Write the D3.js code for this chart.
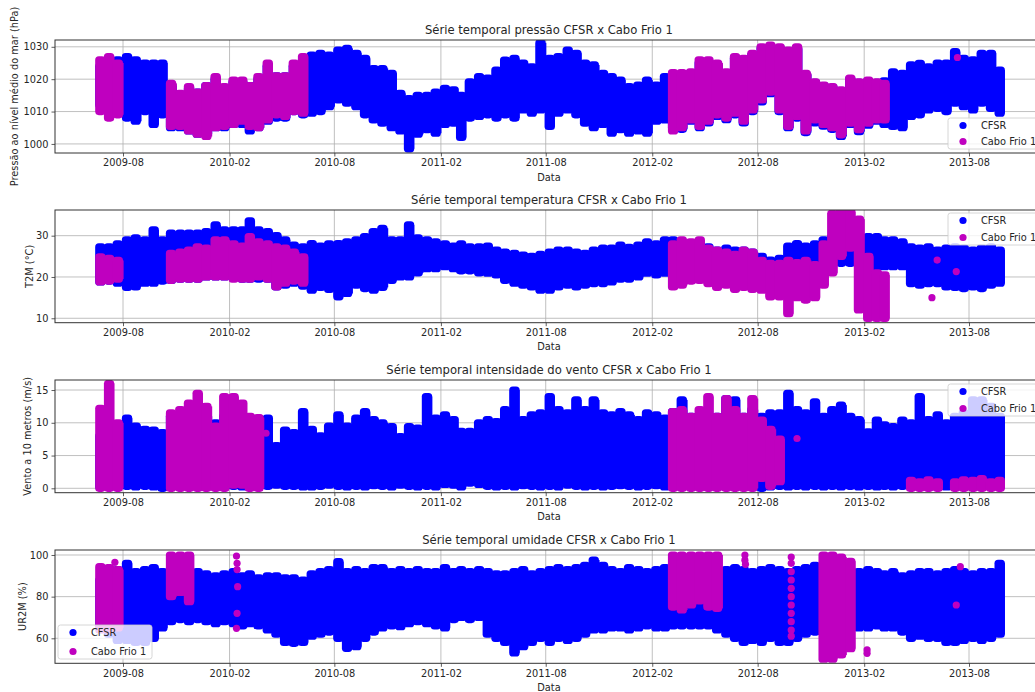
<!DOCTYPE html>
<html><head><meta charset="utf-8">
<script src="https://cdnjs.cloudflare.com/ajax/libs/d3/7.8.5/d3.min.js"></script>
<style>
body{margin:0;background:#fff}
text{font-family:"DejaVu Sans",sans-serif;fill:#262626}
</style>
</head><body>
<script>
// ---------- categories (half-month bins) ----------
const binStarts = [
"2009-06-16","2009-07-01","2009-07-16","2009-08-01","2009-08-16","2009-09-01","2009-09-16","2009-10-01","2009-10-16","2009-11-01",
"2009-11-16","2009-12-01","2009-12-16","2010-01-01","2010-01-16","2010-02-01","2010-02-16","2010-03-01","2010-03-16","2010-04-01",
"2010-04-16","2010-05-01","2010-05-16","2010-06-01","2010-06-16","2010-07-01","2010-07-16","2010-08-01","2010-08-16","2010-09-01",
"2010-09-16","2010-10-01","2010-10-16","2010-11-01","2010-11-16","2010-12-01","2010-12-16","2011-01-01","2011-01-16","2011-02-01",
"2011-02-16","2011-03-01","2011-03-16","2011-04-01","2011-04-16","2011-05-01","2011-05-16","2011-06-01","2011-06-16","2011-07-01",
"2011-07-16","2011-08-01","2011-08-16","2011-09-01","2011-09-16","2011-10-01","2011-10-16","2011-11-01","2011-11-16","2011-12-01",
"2011-12-16","2012-01-01","2012-01-16","2012-02-01","2012-02-16","2012-03-01","2012-03-16","2012-04-01","2012-04-16","2012-05-01",
"2012-05-16","2012-06-01","2012-06-16","2012-07-01","2012-07-16","2012-08-01","2012-08-16","2012-09-01","2012-09-16","2012-10-01",
"2012-10-16","2012-11-01","2012-11-16","2012-12-01","2012-12-16","2013-01-01","2013-01-16","2013-02-01","2013-02-16","2013-03-01",
"2013-03-16","2013-04-01","2013-04-16","2013-05-01","2013-05-16","2013-06-01","2013-06-16","2013-07-01","2013-07-16","2013-08-01",
"2013-08-16","2013-09-01","2013-09-16"];
const xTickLabels = ["2009-08","2010-02","2010-08","2011-02","2011-08","2012-02","2012-08","2013-02","2013-08"];
const seriesNames = ["CFSR","Cabo Frio 1"];

// ---------- pressure (hPa): per-bin max / min ----------
const pressaoTicks = [1000,1010,1020,1030];
const pressaoCfsrMax = [
1024,1025,1026,1027,1026,1025,1025,1025,1018,1015,
1017,1016,1018,1020,1017,1019,1019,1018,1020,1024,
1021,1021,1024,1026,1027.4,1028,1027.4,1029,1029.5,1028,
1026.4,1023.3,1023.3,1021.8,1015.6,1014,1015,1015,1016,1017.2,
1016.7,1015,1019.2,1020.8,1020.3,1022.8,1025.9,1026.4,1025,1023.8,
1031.2,1026.4,1027,1029,1028,1025,1024.4,1021.8,1020.8,1019.7,
1017.7,1018.2,1019.7,1018.2,1020.8,1019.2,1021,1022,1025,1025,
1024.5,1022,1026.5,1026,1027.5,1029.5,1030,1029.5,1028.5,1029.5,
1021.5,1019,1018,1017.5,1016.5,1020,1019,1019.5,1019,1019.5,
1022.3,1021.8,1024.4,1024.9,1023.8,1025,1025,1028.5,1026.4,1026,
1028,1028,1022.8];
const pressaoCfsrMin = [
1012,1011,1010,1008,1007,1010,1006,1009,1005,1005,
1004,1003,1003,1005,1005,1006,1006,1004,1005,1007,
1008,1008,1010,1009,1009.5,1010,1011.5,1013.6,1012.6,1011.5,
1009,1007.4,1006.4,1005,1004,998.5,1003,1004.4,1003.3,1006,
1006.4,1002,1008,1008.5,1009,1008,1009,1008,1010.5,1009.5,
1010.5,1005.4,1009.5,1010.5,1009,1006.4,1005,1006,1003.3,1004.4,
1003.3,1004,1003.3,1007,1007.4,1005,1004.5,1007,1005,1006.5,
1008.5,1007.5,1009,1006.5,1010,1013,1015.5,1010,1005,1008,
1003.5,1006.5,1005.5,1004.5,1002.3,1006,1003.8,1005.8,1007,1006,
1005.4,1005,1008.5,1009,1010.5,1011,1010,1012.6,1011.5,1010.5,
1012.6,1011,1009.5];
const pressaoCaboMax = [
1026,1027,1025,null,null,null,null,null,1018.7,1015.6,
1017.7,1016,1018,1020.8,1017.7,1019.7,1019.7,1018,1020.8,1025,
1021,1021,1025,1027,null,null,null,null,null,null,
null,null,null,null,null,null,null,null,null,null,
null,null,null,null,null,null,null,null,null,null,
null,null,null,null,null,null,null,null,null,null,
null,null,null,null,null,1022,1022,1022.3,1026,1026,
1025,1022.3,1027,1026.4,1028,1030,1030.5,1030,1029,1030,
1021.8,1019.2,1018.2,1017.7,1016.7,1020.3,1019.2,1019.7,1019.2,1018.7,
null,null,null,null,null,null,null,null,null,null,
null,null,null];
const pressaoCaboMin = [
1010,1008,1009,null,null,null,null,null,1005.4,1005.4,
1004,1003,1002.3,1005,1005.4,1006,1007,1005.4,1005,1007.4,
1009,1008.5,1010,1009.5,null,null,null,null,null,null,
null,null,null,null,null,null,null,null,null,null,
null,null,null,null,null,null,null,null,null,null,
null,null,null,null,null,null,null,null,null,null,
null,null,null,null,null,1004,1005,1007.4,1005.4,1007,
1009,1008,1009.5,1007,1010.5,1013.6,1016,1010.5,1005.4,1008.5,
1004,1007.4,1006,1005,1002.8,1006.4,1004.4,1006.4,1007.4,1007.4,
null,null,null,null,null,null,null,null,null,null,
null,null,null];
const pressaoCaboPts = [["2013-07-12",1026.7]];

// ---------- temperature (°C) ----------
const tempTicks = [10,20,30];
const tempCfsrMax = [
27.3,27.3,28,29,29.5,29,31.4,29,30.6,30.6,
30.6,30.6,31,32.6,31.4,31.4,31.4,33.6,31.4,31,
30,29,27.7,27.3,28.1,27.5,28,28.1,28.5,29,
29.8,31,31.8,29,29,32.6,29.5,29,28.5,28,
27.5,28,27.3,27.3,27.5,26.5,26,25.7,25.3,25,
25.5,26,26.5,26.5,26,25.7,26.5,27,27,27.7,
27.2,27.7,28.5,28,29,29,28.5,28,27.5,27.3,
26.5,27,26.5,26.5,26,25,24.1,24.5,27.5,28.1,
27.5,28,29,29.8,29.8,29.8,29.8,29.8,29.8,29,
29,28.5,27.3,27,27.3,26.5,27,27.3,27,26.5,
27,27.3,26.5];
const tempCfsrMin = [
18.8,19,18.5,17.5,17.6,18.5,18.5,19,19.2,19.5,
19.5,19.5,20,20,20,20,19.5,19.5,19.5,19.5,
17.6,18,18.5,17.8,16.8,17.5,17,15.2,16,18,
17.2,16.8,17.5,19.2,20,20,21,22,22,22.5,
22,21.5,21.5,21,20.9,20.5,19.2,18.5,18,17.6,
16.8,16.8,17.6,18,17.6,18,18.4,18.4,18.8,19.5,
19.5,20,20.9,20.5,20.9,21,20,19.5,19.5,19.2,
19.2,19.2,19.5,19,19.2,19,19,20.5,20.9,20.9,
21,21,22,23.3,23.3,23.3,23.5,22.5,22.5,22.5,
22.5,22.5,18.4,18,18.4,18.4,17.6,17.5,17.2,17.6,
17.2,18,18.5];
const tempCaboMax = [
24.9,24.5,24,null,null,null,null,null,25.7,26,
26.5,27.3,27,29,29,28,27.5,29.8,28.5,28,
27.3,27,26,24.9,null,null,null,null,null,null,
null,null,null,null,null,null,null,null,null,null,
null,null,null,null,null,null,null,null,null,null,
null,null,null,null,null,null,null,null,null,null,
null,null,null,null,null,28,29,28.5,29,27,
26.5,26,25.5,26.5,26,24,23.3,23.3,24,23.5,
24,23,28,35.4,35.8,35.8,34,25,21,20.5,
null,null,null,null,null,null,null,null,null,null,
null,null,null];
const tempCaboMin = [
18.8,19,19.5,null,null,null,null,null,19.2,19.5,
19.5,19.5,20,20,20,19.5,19.5,19.5,20,19.5,
17.6,18.5,19,18.5,null,null,null,null,null,null,
null,null,null,null,null,null,null,null,null,null,
null,null,null,null,null,null,null,null,null,null,
null,null,null,null,null,null,null,null,null,null,
null,null,null,null,null,17.6,18,19,19.2,18.4,
17.5,18,17,17.5,17,16.8,15.2,15.2,11.1,15,
14.4,15,18,21,25,27,12,10,10,10,
null,null,null,null,null,null,null,null,null,null,
null,null,null];
const tempCaboPts = [["2013-05-29",15.0],["2013-06-07",24.1],["2013-07-10",21.3]];

// ---------- wind (m/s) ----------
const ventoTicks = [0,5,10,15];
const ventoCfsrMax = [
8,9,9.5,10.7,9.5,9,8.9,8.5,11,11,
11,11,11,10,11,11,11,10,10,10.7,
6.5,8.9,8.5,11.7,9,8,9.5,11.2,9.5,10.7,
11.7,10.5,10,9.4,7.9,9.4,9.2,14,10.7,11.2,
10.5,8.7,8.7,10,10.5,10.2,12,15,10.5,11.2,
11.5,14,12,11.5,13.5,12,13.5,11.5,11.2,11.7,
11.2,10.5,11.5,11.2,10.7,11.7,13.5,11,11,11,
11,13.7,13.5,11,12,11,11.5,11.5,14.5,12,
11.5,13.2,11,12,12.7,11,10.5,8.6,10.4,9.7,
9.4,10.4,10,14,10.5,11.2,10,11,11.5,13.5,
13.5,12.5,11];
const ventoCfsrMin = [
0.2,0.2,0.3,0.3,0.2,0.3,0.2,0,0.2,0.3,
0.2,0.3,0.2,0.5,0.2,0.3,0.2,0.3,0.2,0.3,
0.5,0.3,0.3,0.2,0.2,0.3,0.5,0.3,0.2,0.3,
0.2,0.4,0.3,0.2,0.5,0.3,0.2,0.3,0.2,0.6,
0.5,0.2,0.8,0.6,0.3,0.2,0.3,0.2,0.4,0.3,
0.2,0.3,0.2,0.5,0.3,0.2,0.3,0.2,0.3,0.4,
0.3,0.2,0.3,0.4,0.2,0.3,0.2,0.3,0.2,0.3,
0.2,0.3,0.2,0.3,0.2,0,0.2,0.3,0.2,0.3,
0.2,0.3,0.2,0.3,0.2,0.3,0.2,0.3,0.2,0.3,
0.2,0.3,0.2,0.3,0.2,0.3,0.2,0.3,0.2,0.3,
0.2,0.3,0.2];
const ventoCaboMax = [
12.2,16,10,null,null,null,null,null,11.5,12,
13,14.5,12.5,9.5,14,14,13,11,10.8,null,
null,null,null,null,null,null,null,null,null,null,
null,null,null,null,null,null,null,null,null,null,
null,null,null,null,null,null,null,null,null,null,
null,null,null,null,null,null,null,null,null,null,
null,null,null,null,null,11.7,12,11,12,14,
11,13.7,12,11,13.7,10.4,9,7.5,null,null,
null,null,null,null,null,null,null,null,null,null,
null,null,1.2,1,1.3,1,null,1,1.3,1.2,
1.5,1,1.2];
const ventoCaboMin = [
0,0,0,null,null,null,null,null,0,0,
0,0,0,0,0,0.5,0.5,0,0,null,
null,null,null,null,null,null,null,null,null,null,
null,null,null,null,null,null,null,null,null,null,
null,null,null,null,null,null,null,null,null,null,
null,null,null,null,null,null,null,null,null,null,
null,null,null,null,null,0,0,0,0,0,
0,0,0,0,0,1.5,0.3,1,null,null,
null,null,null,null,null,null,null,null,null,null,
null,null,0,0,0,0,null,0,0,0,
0,0,0];
const ventoCaboPts = [["2010-04-05",8.4],["2012-10-08",7.6]];

// ---------- relative humidity (%) ----------
const umidTicks = [60,80,100];
const umidCfsrMax = [
88,90,93,96,92,93,94,92,92,93,
92.8,92,91,90,91,92,90,91,89,90,
90,89,89,88,91,92,93,96.8,92,93,
92,94,94,92,93,92,93,92,92,94,
92,93,92,93,92,91,91,92,93,91,
92,93,94,93,94,95,97.6,95,93,92,
94,93,92,93,94,93,92,92,92,92,
93,93,94,93,92,93,94,93,92,93,
94,95,94,93,94,93,92,93,92,91,
92,90,91,92,92,91,92,93,92,91,
92,92,96];
const umidCfsrMin = [
66,62,59,59,58,58,60,65,68,69,
68,69,68,67,68,67,66,67,66,64,
62,58,57.6,58,61,62,63,60,55.2,56,
60,63,65,66,65.6,67,68,67,66,65,
69,70,69,70,62,60,58,53,56,58,
60,58,60,59,60,62,64,64,65,65,
64,65,66,65,65,66,66,66,66,66,
64,62,60,58,59,58,60,58,58,60,
62,63,64,64,65,65,65,65,66,65,
65,63,60,61,60,60,58,58,59,60,
59,60,62];
const umidCaboMax = [
94.4,94,93,null,null,null,null,null,100,100,
100,null,null,null,null,null,null,null,null,null,
null,null,null,null,null,null,null,null,null,null,
null,null,null,null,null,null,null,null,null,null,
null,null,null,null,null,null,null,null,null,null,
null,null,null,null,null,null,null,null,null,null,
null,null,null,null,null,100,100,100,100,100,
100,null,null,null,null,null,null,null,null,null,
null,null,100,100,99,97,null,null,null,null,
null,null,null,null,null,null,null,null,null,null,
null,null,null];
const umidCaboMin = [
64,64,65,null,null,null,null,null,80,82,
77.6,null,null,null,null,null,null,null,null,null,
null,null,null,null,null,null,null,null,null,null,
null,null,null,null,null,null,null,null,null,null,
null,null,null,null,null,null,null,null,null,null,
null,null,null,null,null,null,null,null,null,null,
null,null,null,null,null,75,73.6,76,78,75,
74.4,null,null,null,null,null,null,null,null,null,
null,null,50,50,52,55,null,null,null,null,
null,null,null,null,null,null,null,null,null,null,
null,null,null];
const umidCaboPts = [
["2009-07-18",96.5],
["2010-02-13",99.5],["2010-02-14",96],["2010-02-14",93],["2010-02-15",84.8],["2010-02-14",72],["2010-02-13",64.8],
["2012-07-10",100],["2012-07-10",97.5],["2012-07-11",95.5],
["2012-09-28",99],["2012-09-28",96],["2012-09-28",92],["2012-09-28",88],["2012-09-28",84],["2012-09-28",80],
["2012-09-28",76],["2012-09-28",72],["2012-09-28",68],["2012-09-28",64],["2012-09-28",61],
["2013-02-06",54.4],["2013-02-06",52.8],
["2013-07-10",76],["2013-07-17",94.4]];

// ---------- drawing ----------
const BLUE = "#0000ff", MAG = "#bf00bf";
const R = 3.6, BW = 10.4;
const parse = d3.timeParse("%Y-%m-%d");
const binDates = binStarts.map(parse);
const binEnds = binDates.map((d, i) => i < binDates.length - 1 ? binDates[i + 1] : d3.timeDay.offset(d, 15));
const axL = 55, axR = 1043;
const x = d3.scaleTime().domain([parse("2009-08-01"), parse("2013-08-01")]).range([123, 969]);
const xTickDates = xTickLabels.map(s => parse(s + "-01"));

const svg = d3.select("body").append("svg").attr("width", 1035).attr("height", 692)
  .style("display","block").style("background","#fff");

const panels = [
  {title:"Série temporal pressão CFSR x Cabo Frio 1", ylabel:"Pressão ao nível médio do mar (hPa)", labelX:14,
   top:40, bottom:153, ylim:[997.2,1032.1], ticks:pressaoTicks,
   cMax:pressaoCfsrMax, cMin:pressaoCfsrMin, fMax:pressaoCaboMax, fMin:pressaoCaboMin, pts:pressaoCaboPts,
   legend:{x:948, y:118, w:100, h:31}},
  {title:"Série temporal temperatura CFSR x Cabo Frio 1", ylabel:"T2M (°C)", labelX:29,
   top:210, bottom:322.7, ylim:[8.93,36.22], ticks:tempTicks,
   cMax:tempCfsrMax, cMin:tempCfsrMin, fMax:tempCaboMax, fMin:tempCaboMin, pts:tempCaboPts,
   legend:{x:948, y:213, w:100, h:32}},
  {title:"Série temporal intensidade do vento CFSR x Cabo Frio 1", ylabel:"Vento a 10 metros (m/s)", labelX:27,
   top:380, bottom:492.7, ylim:[-0.67,16.53], ticks:ventoTicks,
   cMax:ventoCfsrMax, cMin:ventoCfsrMin, fMax:ventoCaboMax, fMin:ventoCaboMin, pts:ventoCaboPts,
   legend:{x:948, y:384, w:100, h:32}},
  {title:"Série temporal umidade CFSR x Cabo Frio 1", ylabel:"UR2M (%)", labelX:22,
   top:550, bottom:663.3, ylim:[48,102.4], ticks:umidTicks,
   cMax:umidCfsrMax, cMin:umidCfsrMin, fMax:umidCaboMax, fMin:umidCaboMin, pts:umidCaboPts,
   legend:{x:58, y:625, w:94, h:34}}
];

const defs = svg.append("defs");

panels.forEach((p, k) => {
  const y = d3.scaleLinear().domain(p.ylim).range([p.bottom, p.top]);
  const g = svg.append("g");
  defs.append("clipPath").attr("id", "clip" + k).append("rect")
    .attr("x", axL).attr("y", p.top).attr("width", axR - axL).attr("height", p.bottom - p.top);

  // grid
  g.append("g").selectAll("line").data(xTickDates).join("line")
    .attr("x1", d => x(d)).attr("x2", d => x(d)).attr("y1", p.top).attr("y2", p.bottom)
    .attr("stroke", "#b0b0b0").attr("stroke-width", 0.8);
  g.append("g").selectAll("line").data(p.ticks).join("line")
    .attr("x1", axL).attr("x2", axR).attr("y1", d => y(d)).attr("y2", d => y(d))
    .attr("stroke", "#b0b0b0").attr("stroke-width", 0.8);

  // data
  const dg = g.append("g").attr("clip-path", `url(#clip${k})`);
  const bars = (mins, maxs, color) => {
    const rows = binDates.map((d, i) => ({d, e: binEnds[i], lo: mins[i], hi: maxs[i]}))
      .filter(o => o.lo != null && o.hi != null);
    const sg = dg.append("g").attr("fill", color);
    // solid core of each half-month range
    sg.append("g").selectAll("rect").data(rows).join("rect")
      .attr("x", o => x(o.d) - 0.6)
      .attr("width", o => x(o.e) - x(o.d) + 1.2)
      .attr("y", o => y(o.hi))
      .attr("height", o => Math.max(0, y(o.lo) - y(o.hi)));
    // marker-rounded extent
    sg.append("g").selectAll("rect").data(rows).join("rect")
      .attr("x", o => x(d3.timeDay.offset(o.d, 7)) - BW / 2)
      .attr("width", BW)
      .attr("y", o => y(o.hi) - R)
      .attr("height", o => y(o.lo) - y(o.hi) + 2 * R)
      .attr("rx", R);
  };
  bars(p.cMin, p.cMax, BLUE);
  bars(p.fMin, p.fMax, MAG);
  dg.append("g").selectAll("circle").data(p.pts).join("circle")
    .attr("cx", d => x(parse(d[0]))).attr("cy", d => y(d[1])).attr("r", R).attr("fill", MAG);

  // axes
  const xa = d3.axisBottom(x).tickValues(xTickDates).tickFormat(d3.timeFormat("%Y-%m")).tickSizeOuter(0).tickSize(3.5).tickPadding(3);
  const xg = g.append("g").attr("transform", `translate(0,${p.bottom})`).call(xa);
  xg.select(".domain").remove();
  const ya = d3.axisLeft(y).tickValues(p.ticks).tickFormat(d3.format("d")).tickSizeOuter(0).tickSize(3.5).tickPadding(3);
  const yg = g.append("g").attr("transform", `translate(${axL},0)`).call(ya);
  yg.select(".domain").remove();
  [xg, yg].forEach(a => {
    a.selectAll("text").style("font-family", '"DejaVu Sans",sans-serif').style("font-size", "9.8px").attr("fill", "#262626");
    a.selectAll("line").attr("stroke", "#333").attr("stroke-width", 0.8);
  });

  // frame
  g.append("rect").attr("x", axL).attr("y", p.top).attr("width", axR - axL).attr("height", p.bottom - p.top)
    .attr("fill", "none").attr("stroke", "#333").attr("stroke-width", 1);

  // labels
  g.append("text").attr("x", (axL + axR) / 2).attr("y", p.top - 10).attr("text-anchor", "middle")
    .attr("dominant-baseline", "central").style("font-size", "11.6px").text(p.title);
  g.append("text").attr("x", (axL + axR) / 2).attr("y", p.bottom + 24).attr("text-anchor", "middle")
    .attr("dominant-baseline", "central").style("font-size", "9.8px").text("Data");
  g.append("text").attr("transform", `translate(${p.labelX},${(p.top + p.bottom) / 2}) rotate(-90)`)
    .attr("text-anchor", "middle").attr("dominant-baseline", "central").style("font-size", "9.8px").text(p.ylabel);

  // legend
  const L = p.legend;
  const lg = g.append("g");
  lg.append("rect").attr("x", L.x).attr("y", L.y).attr("width", L.w).attr("height", L.h).attr("rx", 2.5)
    .attr("fill", "#fff").attr("fill-opacity", 0.8).attr("stroke", "#cccccc").attr("stroke-width", 0.8);
  seriesNames.forEach((nm, j) => {
    const cy = L.y + 7.5 + j * (L.h - 15);
    lg.append("circle").attr("cx", L.x + 15).attr("cy", cy).attr("r", R).attr("fill", j === 0 ? BLUE : MAG);
    lg.append("text").attr("x", L.x + 33).attr("y", cy).attr("dominant-baseline", "central")
      .style("font-size", "9.8px").text(nm);
  });
});
</script>
</body></html>
